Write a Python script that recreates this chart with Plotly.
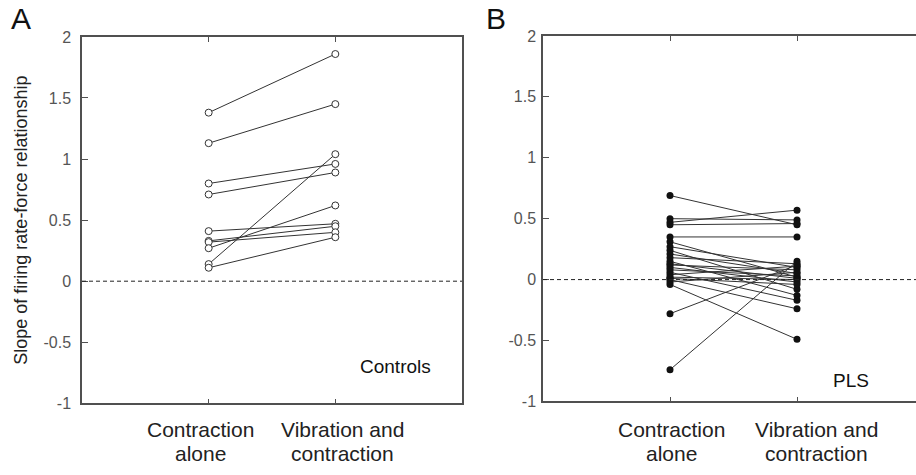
import plotly.graph_objects as go

# Conditions on the x axis (two text lines each)
conditions = [["Contraction", "alone"], ["Vibration and", "contraction"]]
y_ticks = [-1, -0.5, 0, 0.5, 1, 1.5, 2]
y_tick_labels = ["-1", "-0.5", "0", "0.5", "1", "1.5", "2"]

# Controls: slope per motor unit, contraction alone vs vibration + contraction
controls_alone = [1.38, 1.13, 0.80, 0.71, 0.41, 0.33, 0.32, 0.27, 0.14, 0.11]
controls_vib = [1.86, 1.45, 0.96, 0.89, 0.47, 0.45, 0.40, 0.62, 1.04, 0.36]

# PLS patients
pls_alone = [0.69, 0.50, 0.47, 0.45, 0.35, 0.31, 0.27, 0.24, 0.21, 0.18, 0.15, 0.13,
             0.12, 0.10, 0.08, 0.06, 0.04, 0.02, 0.01, 0.00, -0.02, -0.04, -0.28, -0.74]
pls_vib = [0.45, 0.49, 0.57, 0.46, 0.35, 0.02, 0.10, -0.08, 0.05, 0.13, -0.13, 0.01,
           0.08, -0.02, 0.03, -0.17, 0.11, 0.00, -0.04, -0.24, 0.06, -0.49, 0.12, 0.15]

FONT = "Liberation Sans, Arial, sans-serif"
W, H = 916, 475
AXIS = "#505050"
LINE = "#333333"

fig = go.Figure()

xpos = [1, 2]
for a, v in zip(controls_alone, controls_vib):
    fig.add_trace(go.Scatter(
        x=xpos, y=[a, v], mode="lines+markers", xaxis="x", yaxis="y",
        line=dict(color=LINE, width=1),
        marker=dict(symbol="circle", size=7, color="white",
                    line=dict(color=LINE, width=1)),
        showlegend=False, hoverinfo="skip"))

for a, v in zip(pls_alone, pls_vib):
    fig.add_trace(go.Scatter(
        x=xpos, y=[a, v], mode="lines+markers", xaxis="x2", yaxis="y2",
        line=dict(color=LINE, width=1),
        marker=dict(symbol="circle", size=7, color="#111111"),
        showlegend=False, hoverinfo="skip"))

# zero reference lines
for xr, yr in [("x", "y"), ("x2", "y2")]:
    fig.add_shape(type="line", xref=f"{xr} domain", yref=yr, x0=0, x1=1, y0=0, y1=0,
                  line=dict(color="#222222", width=1, dash="4px,3px"))

def px_x(p):
    return p / W

def px_y(p):
    return 1 - p / H

xaxis_common = dict(
    tickvals=xpos, ticks="inside", ticklen=5, tickcolor=AXIS, showticklabels=False,
    showline=True, linecolor=AXIS, linewidth=1.5, showgrid=False, zeroline=False,
    fixedrange=True,
)
yaxis_common = dict(
    tickvals=y_ticks, ticktext=y_tick_labels, range=[-1, 2], ticks="inside", ticklen=6,
    tickcolor=AXIS, showline=True, linecolor=AXIS, linewidth=1.5, showgrid=False,
    zeroline=False, tickfont=dict(family=FONT, size=16, color="#555555"),
    fixedrange=True,
)

def note(text, x, y, size, color="#111111"):
    return dict(text=text, x=px_x(x), y=px_y(y), xref="paper", yref="paper",
                xanchor="center", yanchor="middle", showarrow=False,
                font=dict(family=FONT, size=size, color=color))

# condition labels beneath each panel
cond_x = {"A": [200, 342], "B": [671, 816]}
cond_notes = [note(conditions[i][k], cond_x[p][i], [437, 462][k], 21, "#222222")
              for p in ("A", "B") for i in range(2) for k in range(2)]

fig.update_layout(
    width=W, height=H,
    margin=dict(l=0, r=0, t=0, b=0),
    paper_bgcolor="white", plot_bgcolor="white",
    xaxis=dict(xaxis_common, domain=[px_x(82), px_x(462)], range=[0, 3],
               mirror="ticks", anchor="y"),
    yaxis=dict(yaxis_common, domain=[px_y(410), px_y(30)], mirror=True, anchor="x",
               ticklabelstandoff=6,
               title=dict(text="Slope of firing rate-force relationship",
                          font=dict(family=FONT, size=18, color="#222222"),
                          standoff=11)),
    xaxis2=dict(xaxis_common, domain=[px_x(543), 1.0], range=[0, (916 - 543) / 127],
                mirror="ticks", anchor="y2"),
    yaxis2=dict(yaxis_common, domain=[px_y(408), px_y(29)], anchor="x2",
                ticklabelstandoff=2),
    annotations=[
        note("A", 21, 11, 30),
        note("B", 496, 11, 30),
        note("Controls", 395, 372, 19),
        note("PLS", 851, 386, 19),
    ] + cond_notes,
)

fig.write_html("out.html")
